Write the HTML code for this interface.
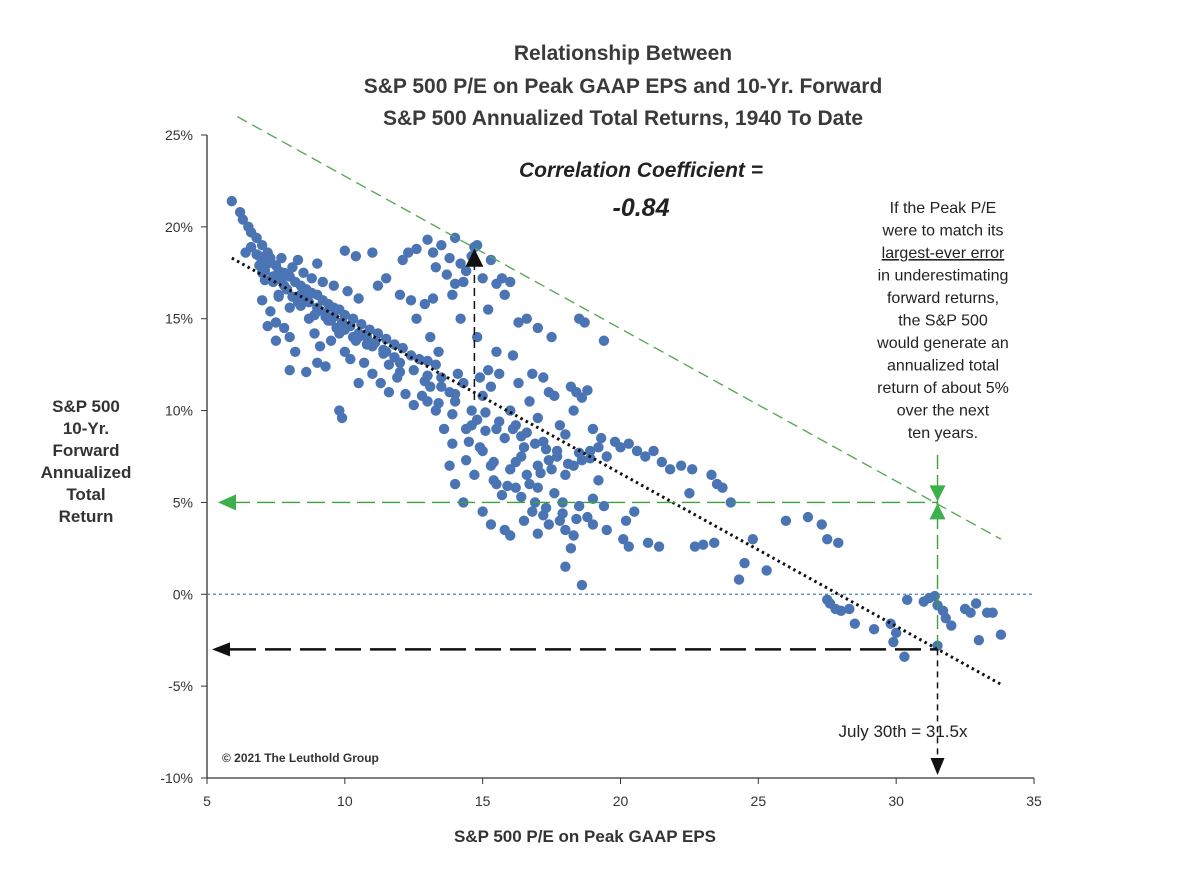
<!DOCTYPE html>
<html><head><meta charset="utf-8"><style>
body{margin:0;background:#fff;}
svg{display:block;font-family:"Liberation Sans",sans-serif;}
</style></head><body>
<svg id="chart" width="1200" height="890">
<g font-weight="bold" font-size="21" fill="#3a3a3a" text-anchor="middle">
<text x="623" y="60">Relationship Between</text>
<text x="623" y="93">S&amp;P 500 P/E on Peak GAAP EPS and 10-Yr. Forward</text>
<text x="623" y="125">S&amp;P 500 Annualized Total Returns, 1940 To Date</text>
</g>
<g id="axes"></g>
<g id="marks"></g>
<g id="annot"></g>
</svg>
<script>
const xTicks=[5,10,15,20,25,30,35];
const yTicks=[25,20,15,10,5,0,-5,-10];
const peValues=[5.9,6.2,6.3,6.5,6.6,6.8,7.0,7.2,7.3,6.4,6.8,7.0,7.2,7.5,7.6,7.8,8.0,8.2,8.4,8.6,8.8,9.0,9.2,9.4,9.6,9.8,10.0,10.3,10.6,10.9,11.2,11.5,11.8,12.1,12.4,12.7,7.0,7.4,7.8,8.1,8.5,8.8,9.2,9.6,10.1,10.5,8.3,9.0,10.0,10.4,11.0,12.3,12.1,12.6,11.5,11.2,12.0,12.4,12.9,12.6,13.1,13.4,13.3,13.0,7.0,7.3,7.5,7.8,8.0,8.2,8.4,8.7,8.9,9.1,9.3,9.5,9.7,10.0,10.2,10.4,10.7,11.0,11.3,11.6,11.9,12.2,12.5,12.8,13.1,13.3,8.0,8.6,9.0,9.8,9.9,10.5,11.6,12.0,7.5,7.2,13.0,13.2,13.5,13.8,14.0,14.2,14.4,14.6,13.3,13.7,14.0,14.3,15.0,15.3,15.5,15.7,16.0,15.8,14.7,14.8,15.2,13.9,13.2,16.3,16.6,17.0,14.2,14.8,15.5,16.1,17.5,18.5,18.7,19.4,13.5,13.8,14.0,14.3,14.6,14.8,15.0,15.3,15.5,15.8,16.0,16.2,16.5,16.7,17.0,17.2,17.4,17.6,17.8,18.0,18.2,18.4,18.6,18.8,18.3,15.2,15.6,16.3,16.8,17.2,14.1,13.6,13.9,14.4,14.7,15.0,15.3,15.5,15.7,16.0,16.2,16.4,16.6,16.8,17.0,17.2,17.4,17.6,17.8,18.0,18.2,18.0,18.3,18.6,18.5,18.8,19.0,19.2,19.5,15.3,15.8,16.5,17.0,17.5,18.0,18.3,18.6,18.9,19.2,19.5,19.8,20.0,20.3,20.6,20.9,21.2,21.5,21.8,19.0,19.3,17.4,17.7,17.0,16.6,16.2,14.5,15.1,20.2,20.5,19.4,19.0,20.1,20.3,21.0,21.4,22.2,22.6,23.3,23.5,23.7,24.0,22.5,23.0,23.4,22.7,14.0,14.3,15.0,16.0,13.8,14.9,13.0,24.5,24.3,24.8,25.3,26.0,26.8,27.3,27.5,27.9,27.5,27.6,27.8,28.0,28.3,28.5,29.2,29.8,29.9,30.0,30.3,30.4,31.0,31.2,31.4,31.5,31.7,31.5,32.0,32.5,32.7,33.0,33.3,33.5,33.8,32.9,31.8,7.6,8.3,8.9,9.4,10.8,11.4,6.9,7.7,8.5,9.3,10.6,11.8,
6.6,6.9,7.1,7.4,7.7,7.9,8.1,8.4,8.7,9.0,9.3,9.6,9.9,10.2,10.5,10.8,11.1,11.4,7.1,7.6,8.0,8.5,9.0,9.5,10.0,10.5,11.0,11.5,12.0,12.5,13.0,13.5,14.0,15.1,15.6,16.1,16.4,16.9,17.3,17.7,18.1,18.5,18.9,15.4,15.9,16.4,16.9,17.3,17.9,18.4,14.6,14.9,15.4,16.7,17.1,17.9,13.4,13.9,14.4,12.9,9.8,10.3];
const returnValues=[21.4,20.8,20.4,20.0,19.7,19.4,19.0,18.6,18.3,18.6,18.5,18.2,18.0,17.9,17.6,17.5,17.3,17.0,16.8,16.6,16.4,16.3,16.0,15.8,15.6,15.5,15.2,15.0,14.7,14.4,14.2,13.9,13.6,13.4,13.0,12.8,17.5,17.0,16.8,17.8,17.5,17.2,17.0,16.8,16.5,16.1,18.2,18.0,18.7,18.4,18.6,18.6,18.2,18.8,17.2,16.8,16.3,16.0,15.8,15.0,14.0,13.2,12.5,12.7,16.0,15.4,14.8,14.5,14.0,13.2,15.7,15.0,14.2,13.5,12.4,13.8,14.5,13.2,12.8,13.8,12.6,12.0,11.5,11.0,11.8,10.9,10.3,10.8,11.3,10.0,12.2,12.1,12.6,10.0,9.6,11.5,12.5,12.1,13.8,14.6,19.3,18.6,19.0,18.3,19.4,18.0,17.6,18.4,17.8,17.4,16.9,17.0,17.2,18.2,16.9,17.2,17.0,16.3,18.9,19.0,15.5,16.3,16.1,14.8,15.0,14.5,15.0,14.0,13.2,13.0,14.0,15.0,14.8,13.8,11.8,11.0,10.5,11.5,10.0,9.5,10.8,11.3,9.0,8.5,10.0,9.2,8.0,10.5,9.6,8.3,11.0,10.8,9.2,8.7,11.3,11.0,10.7,11.1,10.0,12.2,12.0,11.5,12.0,11.8,12.0,9.0,8.2,7.3,6.5,7.8,7.0,6.0,5.4,6.8,5.8,7.5,6.5,4.5,5.8,4.3,3.8,5.5,4.0,3.5,2.5,1.5,3.2,0.5,4.8,4.2,3.8,6.2,3.5,3.8,3.5,4.0,3.3,6.8,6.5,7.0,7.3,7.8,8.0,7.5,8.3,8.0,8.2,7.8,7.5,7.8,7.2,6.8,9.0,8.5,7.3,7.8,7.0,8.8,7.2,8.3,8.9,4.0,4.5,4.8,5.2,3.0,2.6,2.8,2.6,7.0,6.8,6.5,6.0,5.8,5.0,5.5,2.7,2.8,2.6,6.0,5.0,4.5,3.2,7.0,11.8,10.5,1.7,0.8,3.0,1.3,4.0,4.2,3.8,3.0,2.8,-0.3,-0.5,-0.8,-0.9,-0.8,-1.6,-1.9,-1.6,-2.6,-2.1,-3.4,-0.3,-0.4,-0.2,-0.1,-0.6,-0.9,-2.8,-1.7,-0.8,-1.0,-2.5,-1.0,-1.0,-2.2,-0.5,-1.3,16.2,15.9,15.2,14.9,13.6,13.1,17.9,18.3,16.1,15.1,14.1,12.9,
18.9,18.4,17.6,17.3,17.1,16.6,16.2,16.3,15.9,15.6,15.3,15.1,14.8,14.6,14.2,14.0,13.7,13.3,17.1,16.3,15.6,16.1,15.4,14.9,14.4,14.0,13.5,13.2,12.6,12.2,11.9,11.3,10.9,9.9,9.4,9.0,8.6,8.2,7.9,7.5,7.1,7.7,7.4,6.2,5.9,5.3,5.0,4.7,4.4,4.1,9.2,8.0,7.2,6.0,6.6,5.0,10.4,9.8,9.0,11.6,14.2,14.0];
const trendStart=[5.9,18.3], trendEnd=[33.8,-4.9];
const boundStart=[6.1,26.0], boundEnd=[33.8,3.0];
const currentPE=31.5, projectedReturn=5, fittedReturn=-3, pastPE=14.7, pastReturn=18.7;

const X0=207,X1=1034,Y0=778,Y1=135;
const sx=v=>X0+(v-5)/(35-5)*(X1-X0);
const sy=v=>Y0-(v+10)/(35)*(Y0-Y1);
const NS='http://www.w3.org/2000/svg';
function mk(tag,attrs,parent,txt){const e=document.createElementNS(NS,tag);for(const k in attrs)e.setAttribute(k,attrs[k]);if(txt!==undefined)e.textContent=txt;parent.appendChild(e);return e;}
const axes=document.getElementById('axes'),marks=document.getElementById('marks'),ann=document.getElementById('annot');

let l=mk('line',{x1:X0,y1:Y1,x2:X0,y2:Y0,stroke:'#333','stroke-width':1.3},axes);


l=mk('line',{x1:X0,y1:Y0,x2:X1,y2:Y0,stroke:'#333','stroke-width':1.3},axes);


yTicks.forEach(v=>{
  mk('line',{x1:X0-6,y1:sy(v),x2:X0,y2:sy(v),stroke:'#333'},axes);
  const t=mk('text',{x:193,y:sy(v)+5,'text-anchor':'end','font-size':14,fill:'#333'},axes,v+'%');
  
  
});
xTicks.forEach(v=>{
  mk('line',{x1:sx(v),y1:Y0,x2:sx(v),y2:Y0+6,stroke:'#333'},axes);
  const t=mk('text',{x:sx(v),y:806,'text-anchor':'middle','font-size':14,fill:'#333'},axes,v);
  
  
});
let t=mk('text',{x:585,y:842,'text-anchor':'middle','font-size':17,'font-weight':'bold',fill:'#333'},axes,'S&P 500 P/E on Peak GAAP EPS');


const yt=mk('g',{'font-size':17,'font-weight':'bold',fill:'#333','text-anchor':'middle'},axes);


['S&P 500','10-Yr.','Forward','Annualized','Total','Return'].forEach((s,i)=>mk('text',{x:86,y:412+i*22},yt,s));

l=mk('line',{x1:X0,y1:sy(0),x2:X1,y2:sy(0),stroke:'#4a7cc0','stroke-width':1.2,'stroke-dasharray':'3,3'},marks);



peValues.forEach((p,i)=>{
  const c=mk('circle',{cx:sx(p),cy:sy(returnValues[i]),r:5.2,fill:'#4a74b4'},marks);
  
  
});

l=mk('line',{x1:sx(trendStart[0]),y1:sy(trendStart[1]),x2:sx(trendEnd[0]),y2:sy(trendEnd[1]),stroke:'#111','stroke-width':3,'stroke-dasharray':'2.5,3.5'},ann);


l=mk('line',{x1:sx(boundStart[0]),y1:sy(boundStart[1]),x2:sx(boundEnd[0]),y2:sy(boundEnd[1]),stroke:'#5aaa5a','stroke-width':1.4,'stroke-dasharray':'11,6'},ann);



const cx=sx(currentPE), y5=sy(projectedReturn), yf=sy(fittedReturn);
l=mk('line',{x1:232,y1:y5,x2:cx,y2:y5,stroke:'#3ca03c','stroke-width':1.4,'stroke-dasharray':'18,7'},ann);


l=mk('polygon',{points:`218,${y5} 236,${y5-8} 236,${y5+8}`,fill:'#3cb04a'},ann);


l=mk('line',{x1:cx,y1:455,x2:cx,y2:yf,stroke:'#3ca03c','stroke-width':1.4,'stroke-dasharray':'14,6'},ann);


mk('polygon',{points:`${cx-8},${y5-17} ${cx+8},${y5-17} ${cx},${y5-1}`,fill:'#3cb04a'},ann);
mk('polygon',{points:`${cx-8},${y5+17} ${cx+8},${y5+17} ${cx},${y5+1}`,fill:'#3cb04a'},ann);
l=mk('line',{x1:230,y1:yf,x2:cx,y2:yf,stroke:'#111','stroke-width':2.5,'stroke-dasharray':'26,9'},ann);


l=mk('polygon',{points:`212,${yf} 230,${yf-7} 230,${yf+7}`,fill:'#111'},ann);


l=mk('line',{x1:cx,y1:yf,x2:cx,y2:757,stroke:'#111','stroke-width':1.5,'stroke-dasharray':'6,5'},ann);


mk('polygon',{points:`${cx-7},${758} ${cx+7},758 ${cx},775`,fill:'#111'},ann);
const px=sx(pastPE);
l=mk('line',{x1:px,y1:400,x2:px,y2:sy(pastReturn)+8,stroke:'#111','stroke-width':1.5,'stroke-dasharray':'8,5'},ann);


mk('polygon',{points:`${px-9},${sy(pastReturn)+16} ${px+9},${sy(pastReturn)+16} ${px},${sy(pastReturn)-2}`,fill:'#111'},ann);

t=mk('text',{x:641,y:177,'text-anchor':'middle','font-size':21,'font-weight':'bold','font-style':'italic',fill:'#222'},ann,'Correlation Coefficient =');


t=mk('text',{x:641,y:216,'text-anchor':'middle','font-size':25,'font-weight':'bold','font-style':'italic',fill:'#222'},ann,'-0.84');


const note=mk('g',{'font-size':16,fill:'#222','text-anchor':'middle'},ann);


['If the Peak P/E','were to match its','largest-ever error','in underestimating','forward returns,','the S&P 500','would generate an','annualized total','return of about 5%','over the next','ten years.'].forEach((s,i)=>{
  const tt=mk('text',{x:943,y:213+i*22.5},note,s);
  if(i===2) tt.setAttribute('text-decoration','underline');
});
t=mk('text',{x:903,y:737,'text-anchor':'middle','font-size':17,fill:'#222'},ann,'July 30th = 31.5x');


t=mk('text',{x:222,y:762,'font-size':12,'font-weight':'bold',fill:'#333'},ann,'© 2021 The Leuthold Group');


</script>
</body></html>
